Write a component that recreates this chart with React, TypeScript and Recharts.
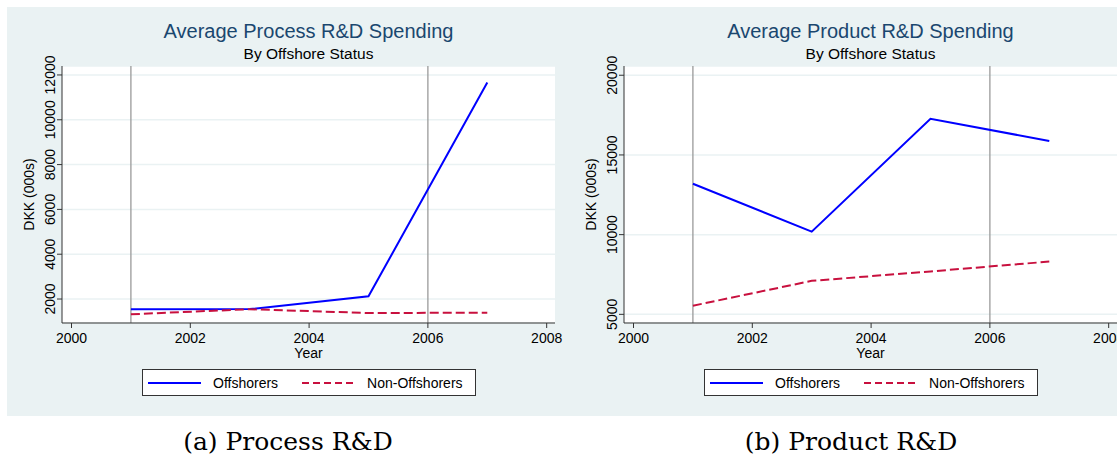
import { LineChart, Line, XAxis, YAxis, CartesianGrid, ReferenceLine, Legend } from "recharts"

// values
const years = [2001, 2003, 2005, 2007]
const processOffshorers = [1545, 1550, 2120, 11660]
const processNonOffshorers = [1320, 1545, 1375, 1390]
const productOffshorers = [13190, 10190, 17270, 15875]
const productNonOffshorers = [5540, 7100, 7690, 8310]

const yearTicks = [2000, 2002, 2004, 2006, 2008]
const processTicks = [2000, 4000, 6000, 8000, 10000, 12000]
const productTicks = [5000, 10000, 15000, 20000]
const markerYears = [2001, 2006]

const seriesNames = ["Offshorers", "Non-Offshorers"]

const SANS = "'Liberation Sans', Arial, Helvetica, sans-serif"
const SERIF = "'DejaVu Serif', serif"
const BG = "#eaf2f3"
const BLUE = "#0000ff"
const RED = "#c8103e"

function YTick({ x, y, payload }: any) {
  return (
    <text
      x={x}
      y={y}
      transform={`rotate(-90, ${x}, ${y})`}
      textAnchor="middle"
      fontSize={14}
      fontFamily={SANS}
      fill="#000"
    >
      {payload.value}
    </text>
  )
}

function YTitle({ viewBox }: any) {
  const cx = viewBox.x + 7
  const cy = viewBox.y + viewBox.height / 2
  return (
    <text
      x={cx}
      y={cy}
      transform={`rotate(-90, ${cx}, ${cy})`}
      textAnchor="middle"
      dominantBaseline="central"
      fontSize={14}
      fontFamily={SANS}
      fill="#000"
    >
      DKK (000s)
    </text>
  )
}

function XTitle({ viewBox }: any) {
  return (
    <text
      x={viewBox.x + viewBox.width / 2}
      y={viewBox.y + 35}
      textAnchor="middle"
      fontSize={14}
      fontFamily={SANS}
      fill="#000"
    >
      Year
    </text>
  )
}

function LegendBox({ payload }: any) {
  const items = [...(payload || [])].sort(
    (a: any, b: any) => seriesNames.indexOf(a.value) - seriesNames.indexOf(b.value)
  )
  return (
    <div
      style={{
        boxSizing: "border-box",
        width: 334,
        height: 27,
        border: "1px solid #333",
        background: "#fff",
        display: "flex",
        alignItems: "center",
        paddingLeft: 5,
        fontFamily: SANS,
        fontSize: 14,
        color: "#000",
      }}
    >
      {items.map((entry: any, i: number) => (
        <div key={entry.value} style={{ display: "flex", alignItems: "center", marginLeft: i === 0 ? 0 : 24 }}>
          <svg width={53} height={6} style={{ marginRight: 12 }}>
            <line
              x1={0}
              y1={3}
              x2={53}
              y2={3}
              stroke={entry.color}
              strokeWidth={2}
              strokeDasharray={entry.payload?.strokeDasharray ? "7 4" : undefined}
            />
          </svg>
          <span>{entry.value}</span>
        </div>
      ))}
    </div>
  )
}

interface PanelProps {
  left: number
  offshorers: number[]
  nonOffshorers: number[]
  yTicks: number[]
  yDomain: [number, number]
}

function Panel({ left, offshorers, nonOffshorers, yTicks, yDomain }: PanelProps) {
  const data = years.map((year, i) => ({ year, off: offshorers[i], non: nonOffshorers[i] }))
  return (
    <div style={{ position: "absolute", left, top: 0 }}>
      <LineChart width={572} height={420} data={data} margin={{ top: 66, right: 17, bottom: 57, left: 22 }}>
        <CartesianGrid vertical={false} stroke={BG} strokeWidth={1.5} fill="#fff" />
        <XAxis
          dataKey="year"
          type="number"
          domain={[1999.84, 2008.14]}
          ticks={yearTicks}
          allowDataOverflow
          height={40}
          tickSize={5}
          tickMargin={5}
          axisLine={{ stroke: "#333" }}
          tickLine={{ stroke: "#333" }}
          tick={{ fontSize: 14, fontFamily: SANS, fill: "#000" }}
          label={<XTitle />}
        />
        <YAxis
          type="number"
          domain={yDomain}
          ticks={yTicks}
          allowDataOverflow
          width={40}
          tickSize={5}
          tickMargin={2}
          axisLine={{ stroke: "#333" }}
          tickLine={{ stroke: "#333" }}
          tick={<YTick />}
          label={<YTitle />}
        />
        {markerYears.map((yr) => (
          <ReferenceLine key={yr} x={yr} stroke="#9a9a9a" strokeWidth={1.3} />
        ))}
        <Line
          type="linear"
          dataKey="off"
          name={seriesNames[0]}
          stroke={BLUE}
          strokeWidth={2}
          dot={false}
          isAnimationActive={false}
        />
        <Line
          type="linear"
          dataKey="non"
          name={seriesNames[1]}
          stroke={RED}
          strokeWidth={2}
          strokeDasharray="9 4"
          dot={false}
          isAnimationActive={false}
        />
        <Legend
          layout="horizontal"
          verticalAlign="middle"
          wrapperStyle={{ top: 369, left: 142, width: 334, height: 27 }}
          content={<LegendBox />}
        />
      </LineChart>
    </div>
  )
}

export default function App() {
  return (
    <div style={{ position: "relative", width: 1117, height: 460, overflow: "hidden", background: "#fff" }}>
      <style>{"body{margin:0}"}</style>
      <div style={{ position: "absolute", left: 7, top: 7, width: 1110, height: 409, background: BG }} />
      <Panel
        left={0}
        offshorers={processOffshorers}
        nonOffshorers={processNonOffshorers}
        yTicks={processTicks}
        yDomain={[930, 12400]}
      />
      <Panel
        left={562}
        offshorers={productOffshorers}
        nonOffshorers={productNonOffshorers}
        yTicks={productTicks}
        yDomain={[4456, 20580]}
      />
      <svg width={1117} height={460} style={{ position: "absolute", left: 0, top: 0, pointerEvents: "none" }}>
        <text x={308.5} y={38} textAnchor="middle" fontSize={20} fontFamily={SANS} fill="#1a476f">
          Average Process R&amp;D Spending
        </text>
        <text x={308.5} y={59} textAnchor="middle" fontSize={15.5} fontFamily={SANS} fill="#000">
          By Offshore Status
        </text>
        <text x={870.5} y={38} textAnchor="middle" fontSize={20} fontFamily={SANS} fill="#1a476f">
          Average Product R&amp;D Spending
        </text>
        <text x={870.5} y={59} textAnchor="middle" fontSize={15.5} fontFamily={SANS} fill="#000">
          By Offshore Status
        </text>
        <text x={288} y={450} textAnchor="middle" fontSize={25} fontFamily={SERIF} fill="#000">
          (a) Process R&amp;D
        </text>
        <text x={851} y={450} textAnchor="middle" fontSize={25} fontFamily={SERIF} fill="#000">
          (b) Product R&amp;D
        </text>
      </svg>
    </div>
  )
}
